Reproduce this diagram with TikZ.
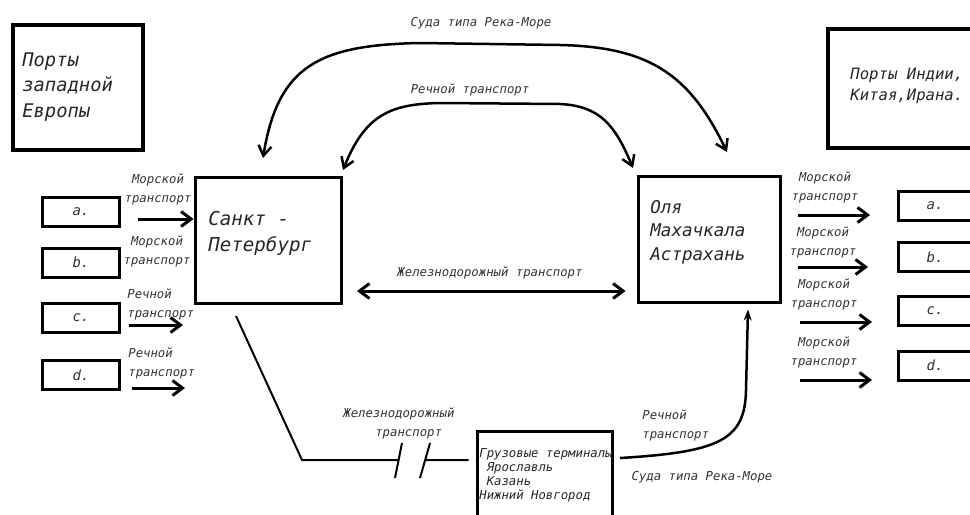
\documentclass[tikz,border=0pt]{standalone}
\usepackage{fontspec}
\newfontfamily\schemefont{DejaVu Sans Mono}
\usetikzlibrary{arrows.meta, positioning}

\tikzset{
    box/.style={draw, line width=0.06cm, inner sep=0pt, font=\schemefont\itshape\fontsize{8}{9}\selectfont, text=black!80},
    bigbox/.style={draw, line width=0.08cm, inner sep=0pt},
    title/.style={anchor=west, align=left, inner sep=0pt, text=black!85},
    caption/.style={font=\schemefont\itshape\fontsize{7}{10.8}\selectfont, text=black!80, align=center, inner sep=0pt},
    route/.style={line width=0.06cm, -{Straight Barb[length=0.2cm, width=0.3cm]}},
    curve/.style={line width=0.05cm, {Straight Barb[length=0.2cm, width=0.26cm]}-{Straight Barb[length=0.2cm, width=0.26cm]}}
}

\begin{document}
\begin{tikzpicture}[x=0.02cm, y=-0.02cm]
        \clip (0,0) rectangle (970,514);

        % main boxes
        \node[bigbox, minimum width=2.6cm, minimum height=2.5cm] (west) at (78,87.5) {};
        \node[title, font=\schemefont\itshape\fontsize{10.7}{14.7}\selectfont] (westtext) at (22,87) {Порты\\западной\\Европы};
        \node[bigbox, minimum width=2.94cm, minimum height=2.38cm] (east) at (901.5,88.5) {};
        \node[title, font=\schemefont\itshape\fontsize{8.9}{11.9}\selectfont] (easttext) at (850,86) {Порты Индии,\\Китая,Ирана.};
        \node[box, minimum width=2.94cm, minimum height=2.54cm] (spb) at (268.5,240.5) {};
        \node[title, font=\schemefont\itshape\fontsize{10.9}{14.7}\selectfont] (spbtext) at (208,233) {Санкт -\\Петербург};
        \node[box, minimum width=2.86cm, minimum height=2.54cm] (astr) at (709.5,239.5) {};
        \node[title, font=\schemefont\itshape\fontsize{10}{13.3}\selectfont] (astrtext) at (650,232) {Оля\\Махачкала\\Астрахань};
        \node[box, minimum width=2.72cm, minimum height=1.98cm] (term) at (545,480.5) {};
        \node[title, font=\schemefont\itshape\fontsize{7}{8}\selectfont] (termtext) at (479,475) {Грузовые терминалы\\\ Ярославль\\\ Казань\\Нижний Новгород};

        % small ports
        \node[box, minimum width=1.56cm, minimum height=0.58cm] (la) at (81,211.5) {a.};
        \node[box, minimum width=1.56cm, minimum height=0.58cm] (lb) at (81,262.5) {b.};
        \node[box, minimum width=1.56cm, minimum height=0.58cm] (lc) at (81,317.5) {c.};
        \node[box, minimum width=1.56cm, minimum height=0.58cm] (ld) at (81,375) {d.};
        \node[box, minimum width=1.48cm, minimum height=0.58cm] (ra) at (935,205.5) {a.};
        \node[box, minimum width=1.48cm, minimum height=0.58cm] (rb) at (935,257) {b.};
        \node[box, minimum width=1.48cm, minimum height=0.58cm] (rc) at (935,311) {c.};
        \node[box, minimum width=1.48cm, minimum height=0.58cm] (rd) at (935,365.5) {d.};

        % labels
        \node[caption] (sealA) at (158,189) {Морской\\транспорт};
        \node[caption] (sealB) at (157,251) {Морской\\транспорт};
        \node[caption, align=left, anchor=west] (riverC) at (127,304) {Речной\\транспорт};
        \node[caption, align=left, anchor=west] (riverD) at (128,363) {Речной\\транспорт};
        \node[caption] (searA) at (825,187) {Морской\\транспорт};
        \node[caption] (searB) at (823,242) {Морской\\транспорт};
        \node[caption] (searC) at (824,294) {Морской\\транспорт};
        \node[caption] (searD) at (824,352) {Морской\\транспорт};
        \node[caption] (railtext) at (490,273) {Железнодорожный транспорт};
        \node[caption] (outertext) at (481,23) {Суда типа Река-Море};
        \node[caption] (innertext) at (470,90) {Речной транспорт};
        \node[caption, align=left, anchor=west] (railtext2) at (343,423) {Железнодорожный\\\hspace*{2.6em}транспорт};
        \node[caption, align=left, anchor=west] (rivertext2) at (642,425) {Речной\\транспорт};
        \node[caption] (seatext2) at (702,477) {Суда типа Река-Море};

        % arrows of the small ports
        \coordinate (ina) at (138,219);
        \coordinate (inc) at (129,325);
        \coordinate (ind) at (132,388);
        \draw[route] (ina) to (ina -| spb.west);
        \draw[route] (inc) to ++(54,0);
        \draw[route] (ind) to ++(53,0);
        \coordinate (outa) at (798,215);
        \coordinate (outb) at (798,267);
        \coordinate (outc) at (800,322);
        \coordinate (outd) at (800,380);
        \draw[route] (outa) to ++(72,0);
        \draw[route] (outb) to ++(70,0);
        \draw[route] (outc) to ++(72,0);
        \draw[route] (outd) to ++(72,0);

        % connections between the main boxes
        \coordinate (raill) at (357,291);
        \draw[route, {Straight Barb[length=0.2cm, width=0.3cm]}-{Straight Barb[length=0.2cm, width=0.3cm]}] (raill) to ([xshift=-0.22cm]raill -| astr.west);
        \coordinate (outerl) at (263,158);
        \coordinate (outerr) at (727,152);
        \draw[curve] (outerl) .. controls (278,65) and (320,45) .. (420,43)
            -- (560,45) .. controls (650,47) and (690,75) .. (outerr);
        \coordinate (innerl) at (343,170);
        \coordinate (innerr) at (633,168);
        \draw[curve] (innerl) .. controls (365,115) and (390,104) .. (440,103)
            -- (560,104) .. controls (600,106) and (615,125) .. (innerr);
        \coordinate (railstart) at (236,316);
        \coordinate (railbend) at (302,460);
        \draw[line width=0.04cm] (railstart) -- (railbend) -- (399,460)
            (425,460) -- ([xshift=-0.14cm]term.west |- railbend);
        \draw[line width=0.04cm] (395,478) -- (402,443)
            (420,478) -- (430,443);
        \coordinate (rivstart) at (620,458);
        \draw[line width=0.05cm, -{Stealth[length=0.22cm, width=0.16cm]}] (rivstart) .. controls (720,452) and (745,440) .. (746,390)
            -- ([xshift=0.77cm, yshift=-0.1cm]astr.south);
\end{tikzpicture}
\end{document}
